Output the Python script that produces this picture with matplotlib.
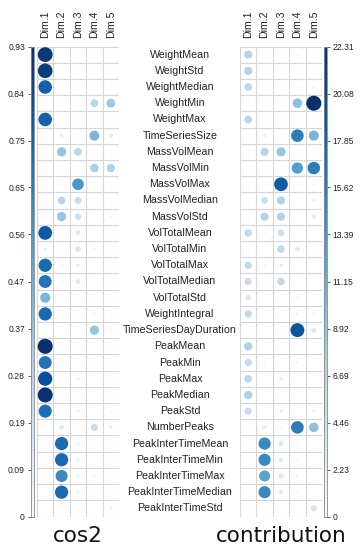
import matplotlib
matplotlib.use("Agg")
import matplotlib.pyplot as plt
import numpy as np

variables = ["WeightMean", "WeightStd", "WeightMedian", "WeightMin", "WeightMax",
             "TimeSeriesSize", "MassVolMean", "MassVolMin", "MassVolMax",
             "MassVolMedian", "MassVolStd", "VolTotalMean", "VolTotalMin",
             "VolTotalMax", "VolTotalMedian", "VolTotalStd", "WeightIntegral",
             "TimeSeriesDayDuration", "PeakMean", "PeakMin", "PeakMax", "PeakMedian",
             "PeakStd", "NumberPeaks", "PeakInterTimeMean", "PeakInterTimeMin",
             "PeakInterTimeMax", "PeakInterTimeMedian", "PeakInterTimeStd"]
dims = ["Dim.1", "Dim.2", "Dim.3", "Dim.4", "Dim.5"]

# cos2 per dimension (rows follow variables)
cos2_dim1 = [0.90, 0.88, 0.75, 0.01, 0.75, 0.02, 0.03, 0.00, 0.02, 0.02, 0.02, 0.78, 0.05, 0.72, 0.68,
             0.42, 0.72, 0.01, 0.93, 0.68, 0.82, 0.92, 0.70, 0.01, 0.00, 0.00, 0.00, 0.00, 0.00]
cos2_dim2 = [0.005, 0.005, 0.005, 0.005, 0.005, 0.06, 0.35, 0.00, 0.02, 0.25, 0.35, 0.02, 0.01, 0.02, 0.02,
             0.01, 0.00, 0.00, 0.00, 0.03, 0.00, 0.00, 0.00, 0.10, 0.72, 0.72, 0.60, 0.72, 0.00]
cos2_dim3 = [0.00, 0.00, 0.00, 0.00, 0.00, 0.00, 0.25, 0.00, 0.55, 0.20, 0.18, 0.10, 0.13, 0.05, 0.10,
             0.00, 0.00, 0.00, 0.00, 0.00, 0.03, 0.00, 0.04, 0.01, 0.06, 0.05, 0.06, 0.06, 0.00]
cos2_dim4 = [0.005, 0.00, 0.005, 0.25, 0.00, 0.41, 0.00, 0.30, 0.01, 0.01, 0.00, 0.00, 0.02, 0.00, 0.00,
             0.01, 0.02, 0.35, 0.00, 0.01, 0.00, 0.00, 0.00, 0.20, 0.01, 0.005, 0.02, 0.01, 0.00]
cos2_dim5 = [0.00, 0.00, 0.01, 0.33, 0.00, 0.08, 0.01, 0.28, 0.01, 0.01, 0.02, 0.00, 0.00, 0.00, 0.00,
             0.00, 0.01, 0.03, 0.00, 0.00, 0.00, 0.00, 0.02, 0.05, 0.00, 0.00, 0.00, 0.00, 0.04]

# contribution per dimension
contrib_dim1 = [6.5, 6.5, 5.8, 0.1, 5.8, 0.2, 0.2, 0.0, 0.1, 0.1, 0.1, 5.5, 0.3, 5.3, 5.0,
                3.0, 5.5, 0.0, 6.8, 5.3, 5.8, 6.8, 5.0, 0.0, 0.0, 0.0, 0.0, 0.0, 0.0]
contrib_dim2 = [0.1, 0.0, 0.1, 0.1, 0.0, 1.0, 6.5, 0.0, 0.4, 4.5, 6.5, 0.4, 0.2, 0.5, 0.3,
                0.2, 0.0, 0.0, 0.0, 0.4, 0.0, 0.0, 0.0, 2.0, 14.5, 14.5, 12.0, 14.5, 0.0]
contrib_dim3 = [0.0, 0.0, 0.0, 0.0, 0.0, 0.0, 8.3, 0.0, 18.5, 6.5, 6.5, 4.5, 5.5, 1.5, 5.5,
                0.1, 0.0, 0.0, 0.0, 0.0, 1.5, 0.0, 1.2, 0.4, 2.5, 2.2, 2.5, 2.0, 0.0]
contrib_dim4 = [0.3, 0.0, 0.2, 8.9, 0.0, 15.5, 0.1, 12.5, 0.3, 0.2, 0.1, 0.0, 2.2, 0.0, 0.0,
                0.6, 0.8, 19.0, 0.1, 0.7, 0.0, 0.0, 0.0, 15.5, 0.4, 0.4, 0.8, 0.4, 0.0]
contrib_dim5 = [0.2, 0.0, 0.5, 22.31, 0.0, 10.0, 0.3, 15.5, 0.6, 1.2, 2.0, 0.0, 0.3, 0.0, 0.1,
                0.1, 0.8, 2.5, 0.0, 0.0, 0.0, 0.0, 1.0, 9.0, 0.0, 0.0, 0.2, 0.0, 3.5]

cos2_ticks = ["0", "0.09", "0.19", "0.28", "0.37", "0.47", "0.56", "0.65", "0.75", "0.84", "0.93"]
contrib_ticks = ["0", "2.23", "4.46", "6.69", "8.92", "11.15", "13.39", "15.62", "17.85", "20.08", "22.31"]

W, H = 360, 550
fig = plt.figure(figsize=(W / 100, H / 100), dpi=100)
cmap = plt.get_cmap("Blues")
grid_col = "#d6d6d6"
top_px, bot_px = 46.5, 516.5
nrow = len(variables)


def px_axes(x0, x1, y0, y1):
    return fig.add_axes([x0 / W, 1 - y1 / H, (x1 - x0) / W, (y1 - y0) / H])


def panel(x0, x1, columns, vmax):
    ax = px_axes(x0, x1, top_px, bot_px)
    ax.set_xlim(0, 5)
    ax.set_ylim(nrow, 0)
    for k in range(6):
        ax.axvline(k, color=grid_col, lw=0.8, zorder=1)
    for k in range(nrow + 1):
        ax.axhline(k, color=grid_col, lw=0.8, zorder=1)
    cell_px = (x1 - x0) / 5
    for j, vals in enumerate(columns):
        v = np.array(vals)
        d_pt = 0.92 * cell_px * np.sqrt(v / vmax) * 0.72
        ax.scatter(np.full(nrow, j + 0.5), np.arange(nrow) + 0.5, s=d_pt ** 2,
                   c=cmap(0.03 + 0.97 * v / vmax), edgecolors="none", zorder=3)
    for s in ax.spines.values():
        s.set_visible(False)
    ax.xaxis.tick_top()
    ax.set_xticks(np.arange(5) + 0.5)
    ax.set_xticklabels(dims, rotation=90, fontsize=7.6, family="Liberation Sans", color="#222222")
    ax.tick_params(axis="x", length=0, pad=6)
    ax.set_yticks([])
    return ax


def colorbar(x0, x1, labels, side):
    cax = px_axes(x0, x1, top_px, bot_px)
    grad = np.linspace(1, 0, 256).reshape(-1, 1)
    cax.imshow(grad, aspect="auto", cmap=cmap, extent=[0, 1, 0, 1])
    cax.set_xticks([])
    cax.set_yticks(np.linspace(0, 1, len(labels)))
    cax.set_yticklabels(labels, fontsize=6.2, family="Liberation Sans", color="#222222")
    if side == "right":
        cax.yaxis.tick_right()
    cax.tick_params(axis="y", length=2, width=0.6, pad=2, color="#444444")
    for s in cax.spines.values():
        s.set_color("#888888")
        s.set_linewidth(0.6)


panel(37, 119, [cos2_dim1, cos2_dim2, cos2_dim3, cos2_dim4, cos2_dim5], 0.93)
panel(240, 322, [contrib_dim1, contrib_dim2, contrib_dim3, contrib_dim4, contrib_dim5], 22.31)
colorbar(30.5, 33.5, cos2_ticks, "left")
colorbar(324, 327, contrib_ticks, "right")

cell_h = (bot_px - top_px) / nrow
for i, name in enumerate(variables):
    yc = top_px + (i + 0.5) * cell_h
    fig.text(0.5, 1 - yc / H, name, ha="center", va="center", fontsize=7.7,
             family="Liberation Sans", color="#222222")

fig.text(78 / W, 1 - 536 / H, "cos2", ha="center", va="center", fontsize=15.5,
         family="DejaVu Sans", color="#111111")
fig.text(281 / W, 1 - 536 / H, "contribution", ha="center", va="center", fontsize=15.5,
         family="DejaVu Sans", color="#111111")

fig.savefig("out.png", dpi=100)
